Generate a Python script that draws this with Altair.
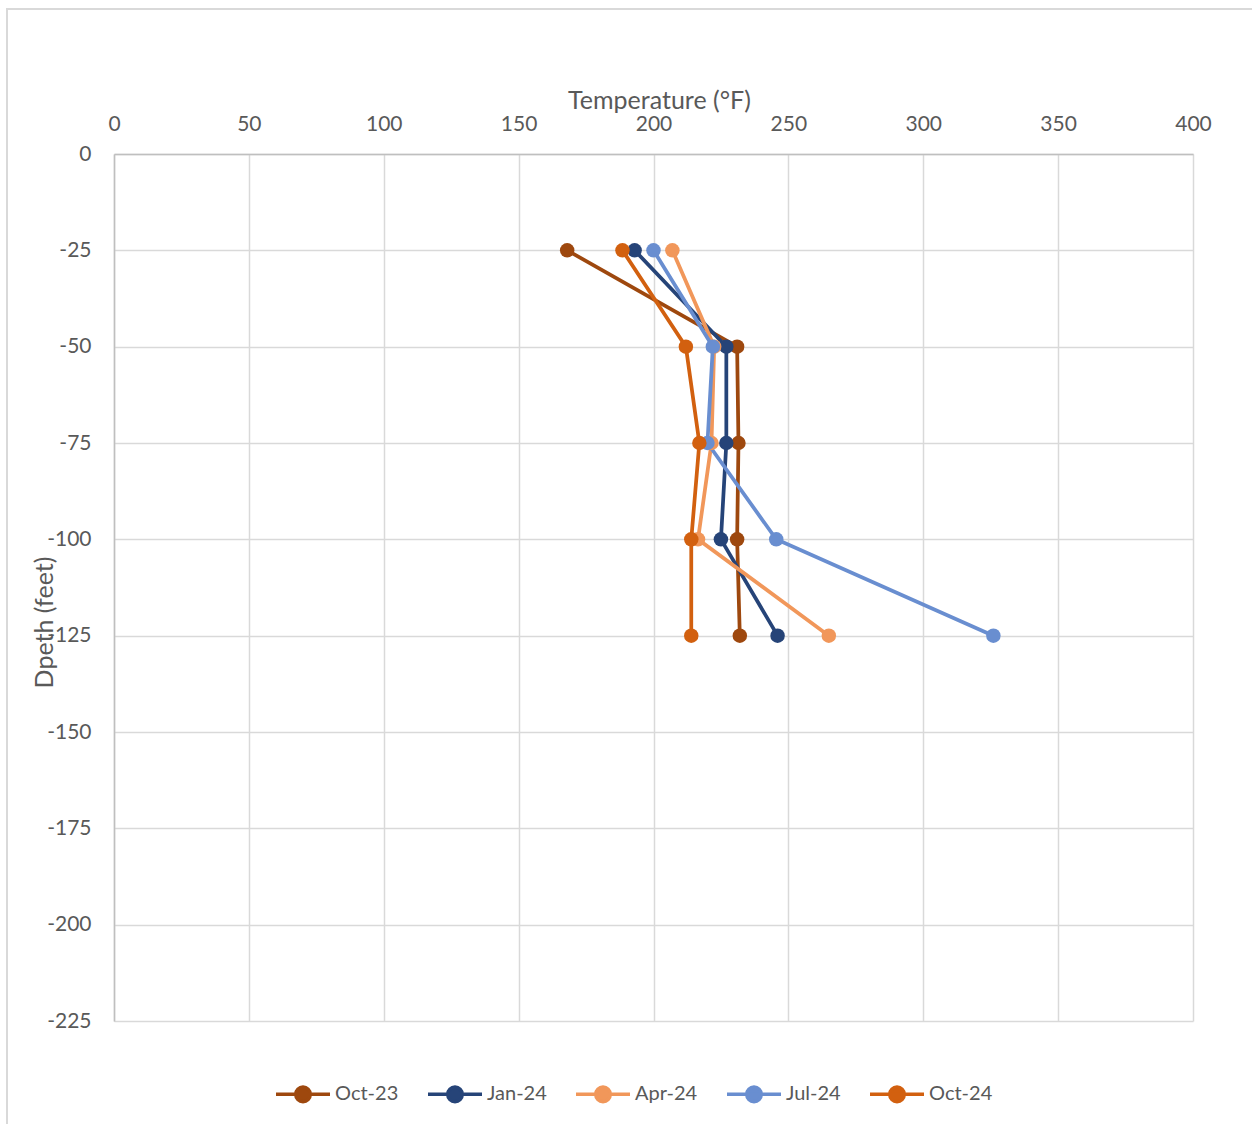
import altair as alt
import pandas as pd

# Depth below surface (feet) for each measurement point
depths = [-25, -50, -75, -100, -125]

# Temperature readings (°F) per survey date, listed in depth order
series_names = ["Oct-23", "Jan-24", "Apr-24", "Jul-24", "Oct-24"]
oct23 = [168, 231, 231.5, 231, 232]
jan24 = [193, 227, 227, 225, 246]
apr24 = [207, 222.5, 221.5, 216.5, 265]
jul24 = [200, 222, 220, 245.5, 326]
oct24 = [188.5, 212, 217, 214, 214]

series_colors = ["#9E480E", "#264478", "#F1975A", "#698ED0", "#D2600F"]

rows = []
for name, temps in zip(series_names, [oct23, jan24, apr24, jul24, oct24]):
    for i, (d, t) in enumerate(zip(depths, temps)):
        rows.append({"Survey": name, "Depth": d, "Temperature": t, "step": i})
df = pd.DataFrame(rows)

FONT = "Lato"
TEXT = "#595959"
# plain hyphen for negative tick labels
HYPHEN_LABEL = "datum.value < 0 ? '-' + abs(datum.value) : '' + datum.value"

color = alt.Color(
    "Survey:N",
    scale=alt.Scale(domain=series_names, range=series_colors),
    legend=alt.Legend(
        title=None,
        orient="none",
        legendX=160,
        legendY=911,
        direction="horizontal",
        columns=5,
        columnPadding=22,
        symbolType="M-1,0L1,0M0.27,0A0.27,0.27,0,1,1,-0.27,0A0.27,0.27,0,1,1,0.27,0",
        symbolSize=2916,
        symbolStrokeWidth=3.5,
        labelFont=FONT,
        labelFontSize=20,
        labelColor=TEXT,
        labelOffset=3,
    ),
)

x = alt.X(
    "Temperature:Q",
    scale=alt.Scale(domain=[0, 400], nice=False),
    axis=alt.Axis(
        orient="top",
        values=list(range(0, 401, 50)),
        title="Temperature (°F)",
        titleX=545,
        titleY=-46,
        titleAlign="center",
        titleBaseline="alphabetic",
        titleFont=FONT,
        titleFontSize=25,
        titleFontWeight="normal",
        titleColor=TEXT,
        labelFont=FONT,
        labelFontSize=21,
        labelColor=TEXT,
        labelPadding=24,
        labelBaseline="alphabetic",
        labelFlush=False,
        labelOverlap=False,
        ticks=False,
        tickSize=0,
        domainColor="#BFBFBF",
        domainWidth=1.5,
        gridColor="#D9D9D9",
        gridWidth=1.5,
    ),
)

y = alt.Y(
    "Depth:Q",
    scale=alt.Scale(domain=[-225, 0], nice=False),
    axis=alt.Axis(
        values=list(range(-225, 1, 25)),
        labelExpr=HYPHEN_LABEL,
        title="Dpeth (feet)",
        titleX=-70,
        titleY=468,
        titleAngle=270,
        titleAlign="center",
        titleBaseline="middle",
        titleFont=FONT,
        titleFontSize=25,
        titleFontWeight="normal",
        titleColor=TEXT,
        labelFont=FONT,
        labelFontSize=21,
        labelColor=TEXT,
        labelPadding=23,
        labelFlush=False,
        labelOverlap=False,
        ticks=False,
        tickSize=0,
        domainColor="#BFBFBF",
        domainWidth=1.5,
        gridColor="#D9D9D9",
        gridWidth=1.5,
    ),
)

base = alt.Chart(df).encode(x=x, y=y, color=color, order=alt.Order("step:Q"))
lines = base.mark_line(strokeWidth=3.75)
points = base.mark_point(filled=True, size=210, opacity=1, shape="circle")

# Thin frame around the whole chart area
frame = alt.Chart(pd.DataFrame({"k": [0]})).mark_rect(
    fill=None, stroke="#D9D9D9", strokeWidth=2
).encode(
    x=alt.value(-107), x2=alt.value(1200), y=alt.value(-145), y2=alt.value(1100)
)

chart = alt.layer(frame, lines, points).properties(
    width=1079,
    height=867,
    padding={"left": 114, "top": 154, "right": 59, "bottom": 103},
    autosize=alt.AutoSizeParams(type="none"),
    background="white",
).configure_view(stroke=None)

chart.save("out.html", embed_options={"renderer": "svg", "actions": False})
